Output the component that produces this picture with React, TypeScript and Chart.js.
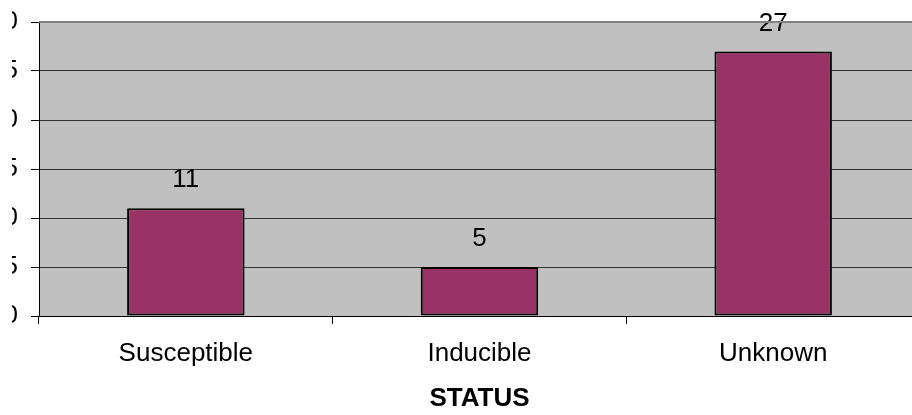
import React, { useEffect, useRef } from "react";
import { Chart, registerables } from "chart.js";

Chart.register(...registerables);

const categories = ["Susceptible", "Inducible", "Unknown"];
const counts = [11, 5, 27];
const yTicks = [0, 5, 10, 15, 20, 25, 30];
const axisTitle = "STATUS";

const FONT = "'Liberation Sans', Arial, sans-serif";

const plotBg = {
  id: "plotBg",
  beforeDraw(chart: any) {
    const { ctx, chartArea } = chart;
    ctx.save();
    ctx.fillStyle = "#C0C0C0";
    ctx.fillRect(chartArea.left, chartArea.top, chartArea.right - chartArea.left, chartArea.bottom - chartArea.top);
    ctx.restore();
  },
  afterDraw(chart: any) {
    const { ctx, chartArea } = chart;
    ctx.save();
    ctx.strokeStyle = "#808080";
    ctx.lineWidth = 2;
    ctx.beginPath();
    ctx.moveTo(chartArea.left, chartArea.top);
    ctx.lineTo(chartArea.right, chartArea.top);
    ctx.moveTo(chartArea.right, chartArea.top);
    ctx.lineTo(chartArea.right, chartArea.bottom);
    ctx.stroke();
    ctx.restore();
  },
};

const valueLabels = {
  id: "valueLabels",
  afterDatasetsDraw(chart: any) {
    const { ctx } = chart;
    const meta = chart.getDatasetMeta(0);
    ctx.save();
    ctx.fillStyle = "#000";
    ctx.font = `26px ${FONT}`;
    ctx.textAlign = "center";
    ctx.textBaseline = "middle";
    meta.data.forEach((bar: any, i: number) => {
      ctx.fillText(String(counts[i]), bar.x, bar.y - 28);
    });
    ctx.restore();
  },
};

export default function App() {
  const ref = useRef<HTMLCanvasElement>(null);

  useEffect(() => {
    document.body.style.margin = "0";
    const chart = new Chart(ref.current!, {
      type: "bar",
      data: {
        labels: categories,
        datasets: [
          {
            data: counts,
            backgroundColor: "#993366",
            borderColor: "#000000",
            borderWidth: 2,
            borderSkipped: false,
            categoryPercentage: 1,
            barPercentage: 0.4,
          },
        ],
      },
      options: {
        responsive: false,
        animation: false,
        devicePixelRatio: 1,
        layout: { padding: { left: 0, right: 32, top: 22, bottom: 0 } },
        plugins: {
          legend: { display: false },
          tooltip: { enabled: false },
        },
        scales: {
          x: {
            offset: true,
            grid: {
              offset: true,
              drawOnChartArea: false,
              drawTicks: true,
              tickLength: 8,
              color: "#000",
            },
            border: { color: "#000", width: 1 },
            ticks: {
              color: "#000",
              padding: 14,
              maxRotation: 0,
              font: { family: FONT, size: 26 },
            },
            title: {
              display: true,
              text: axisTitle,
              color: "#000",
              padding: { top: 0, bottom: 1 },
              font: { family: FONT, size: 26, weight: "bold" },
            },
            afterFit(scale: any) {
              scale.height = 99;
            },
          },
          y: {
            min: 0,
            max: 30,
            afterBuildTicks(scale: any) {
              scale.ticks = yTicks.map((v) => ({ value: v }));
            },
            grid: {
              color: "#333333",
              tickLength: 8,
              tickColor: "#000",
            },
            border: { color: "#000", width: 1 },
            ticks: {
              color: "#000",
              padding: 13,
              font: { family: FONT, size: 26 },
            },
            afterFit(scale: any) {
              scale.width = 79;
              scale.paddingTop = 0;
              scale.paddingBottom = 0;
            },
          },
        },
      },
      plugins: [plotBg, valueLabels],
    });
    return () => chart.destroy();
  }, []);

  return (
    <div style={{ position: "fixed", left: 0, top: 0, width: 912, height: 415, background: "#fff" }}>
      <div style={{ position: "absolute", left: 12, top: 0, width: 900, height: 415, overflow: "hidden" }}>
        <canvas ref={ref} width={992} height={415} style={{ position: "absolute", left: -52, top: 0 }} />
      </div>
    </div>
  );
}
